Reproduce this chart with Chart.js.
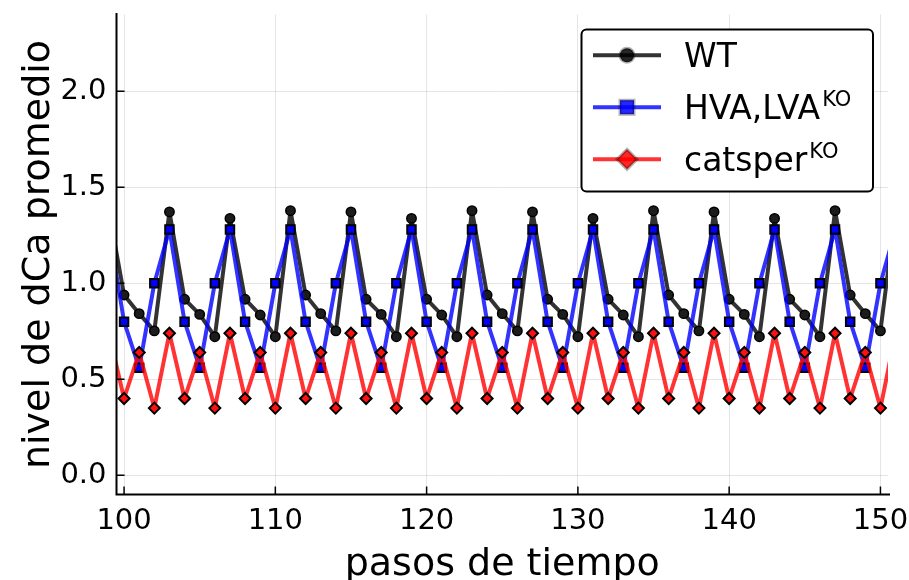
<!DOCTYPE html>
<html><head><meta charset="utf-8">
<script src="https://cdn.jsdelivr.net/npm/chart.js@4"></script>
<style>html,body{margin:0;padding:0;background:#fff}#wrap{width:909px;height:580px;position:relative}</style>
</head><body><div id="wrap"><canvas id="c" width="909" height="580"></canvas></div>
<script>
const steps = [99,100,101,102,103,104,105,106,107,108,109,110,111,112,113,114,115,116,117,118,119,120,121,122,123,124,125,126,127,128,129,130,131,132,133,134,135,136,137,138,139,140,141,142,143,144,145,146,147,148,149,150,151];
const wt = [1.378,0.939,0.842,0.752,1.372,0.917,0.838,0.722,1.338,0.917,0.835,0.722,
            1.378,0.939,0.842,0.752,1.372,0.917,0.838,0.722,1.338,0.917,0.835,0.722,
            1.378,0.939,0.842,0.752,1.372,0.917,0.838,0.722,1.338,0.917,0.835,0.722,
            1.378,0.939,0.842,0.752,1.372,0.917,0.838,0.722,1.338,0.917,0.835,0.722,
            1.378,0.939,0.842,0.752,1.372];
const hva = [1.28,0.80,0.56,1.00,1.28,0.80,0.56,1.00,1.28,0.80,0.56,1.00,
             1.28,0.80,0.56,1.00,1.28,0.80,0.56,1.00,1.28,0.80,0.56,1.00,
             1.28,0.80,0.56,1.00,1.28,0.80,0.56,1.00,1.28,0.80,0.56,1.00,
             1.28,0.80,0.56,1.00,1.28,0.80,0.56,1.00,1.28,0.80,0.56,1.00,
             1.28,0.80,0.56,1.00,1.28];
const catsper = [0.74,0.40,0.64,0.35,0.74,0.40,0.64,0.35,0.74,0.40,0.64,0.35,
                 0.74,0.40,0.64,0.35,0.74,0.40,0.64,0.35,0.74,0.40,0.64,0.35,
                 0.74,0.40,0.64,0.35,0.74,0.40,0.64,0.35,0.74,0.40,0.64,0.35,
                 0.74,0.40,0.64,0.35,0.74,0.40,0.64,0.35,0.74,0.40,0.64,0.35,
                 0.74,0.40,0.64,0.35,0.74];
const seriesNames = ['WT', 'HVA,LVA', 'catsper'];
const seriesSup = ['', 'KO', 'KO'];
const xTicks = [100, 110, 120, 130, 140, 150];
const yTicks = [0, 0.5, 1.0, 1.5, 2.0];
const xTitle = 'pasos de tiempo';
const yTitle = 'nivel de dCa promedio';

const FONT = 'DejaVu Sans';
const lineCols = ['rgba(0,0,0,0.8)', 'rgba(0,0,255,0.8)', 'rgba(255,0,0,0.8)'];
const fillCols = ['#1c1c1c', '#0000ff', '#ff1010'];
const styles = ['circle', 'rect', 'rectRot'];
const radii = [4.7, 6.0, 5.5];
const bws = [1.5, 2, 2];
const seriesData = [wt, hva, catsper];

const datasets = seriesData.map((arr, k) => ({
  label: seriesNames[k] + seriesSup[k],
  data: steps.map((s, i) => ({x: s, y: arr[i]})),
  borderColor: lineCols[k],
  borderWidth: 4,
  borderJoinStyle: 'round',
  borderCapStyle: 'round',
  backgroundColor: fillCols[k],
  pointStyle: styles[k],
  pointRadius: radii[k],
  pointBackgroundColor: fillCols[k],
  pointBorderColor: '#000',
  pointBorderWidth: bws[k],
  tension: 0,
  clip: 0,
  order: 3 - k
}));

const framePlugin = {
  id: 'frame',
  afterDatasetsDraw(chart) {
    const {ctx, chartArea: a, scales: {x, y}} = chart;
    ctx.save();
    ctx.strokeStyle = '#000';
    ctx.lineWidth = 2;
    ctx.beginPath();
    ctx.moveTo(a.left, a.top - 1.5);
    ctx.lineTo(a.left, a.bottom);
    ctx.lineTo(a.right + 2, a.bottom);
    ctx.stroke();
    ctx.lineWidth = 1.5;
    ctx.beginPath();
    xTicks.forEach(v => { const p = x.getPixelForValue(v); ctx.moveTo(p, a.bottom); ctx.lineTo(p, a.bottom - 8); });
    yTicks.forEach(v => { const p = y.getPixelForValue(v); ctx.moveTo(a.left, p); ctx.lineTo(a.left + 8, p); });
    ctx.stroke();
    ctx.restore();
  }
};

function drawMarker(ctx, style, cx, cy, fill) {
  ctx.beginPath();
  if (style === 'circle') {
    ctx.arc(cx, cy, 7, 0, Math.PI * 2);
  } else if (style === 'rect') {
    ctx.rect(cx - 7, cy - 7, 14, 14);
  } else {
    const r = 10;
    ctx.moveTo(cx, cy - r); ctx.lineTo(cx + r, cy); ctx.lineTo(cx, cy + r); ctx.lineTo(cx - r, cy); ctx.closePath();
  }
  ctx.fillStyle = fill;
  ctx.fill();
  ctx.strokeStyle = 'rgba(0,0,0,0.3)';
  ctx.lineWidth = 3;
  ctx.stroke();
}

const legendPlugin = {
  id: 'customLegend',
  afterDraw(chart) {
    const ctx = chart.ctx;
    const bx = 581.5, by = 29.5, bw = 291.5, bh = 162, rr = 5;
    ctx.save();
    ctx.beginPath();
    ctx.moveTo(bx + rr, by);
    ctx.arcTo(bx + bw, by, bx + bw, by + bh, rr);
    ctx.arcTo(bx + bw, by + bh, bx, by + bh, rr);
    ctx.arcTo(bx, by + bh, bx, by, rr);
    ctx.arcTo(bx, by, bx + bw, by, rr);
    ctx.closePath();
    ctx.fillStyle = '#fff';
    ctx.fill();
    ctx.strokeStyle = '#000';
    ctx.lineWidth = 2;
    ctx.stroke();
    const rows = [55.2, 107.2, 159.3];
    rows.forEach((cy, k) => {
      ctx.strokeStyle = lineCols[k];
      ctx.lineWidth = 4;
      ctx.beginPath();
      ctx.moveTo(593, cy); ctx.lineTo(661, cy);
      ctx.stroke();
      drawMarker(ctx, styles[k], 627, cy, k === 0 ? 'rgba(0,0,0,0.85)' : (k === 1 ? 'rgba(0,0,255,0.85)' : 'rgba(255,0,0,0.85)'));
      ctx.fillStyle = '#000';
      ctx.textAlign = 'left';
      ctx.textBaseline = 'alphabetic';
      ctx.font = '33px "' + FONT + '"';
      const tx = 684, base = cy + 11.8;
      ctx.fillText(seriesNames[k], tx, base);
      if (seriesSup[k]) {
        const w = ctx.measureText(seriesNames[k]).width;
        ctx.font = '21px "' + FONT + '"';
        ctx.fillText(seriesSup[k], tx + w + 2, base - 13);
      }
    });
    ctx.restore();
  }
};

function noPad(s) { s.paddingTop = 0; s.paddingBottom = 0; s.paddingLeft = 0; s.paddingRight = 0; }

new Chart(document.getElementById('c'), {
  type: 'line',
  data: {datasets},
  options: {
    responsive: false,
    animation: false,
    devicePixelRatio: 1,
    layout: {padding: {top: 14.5, right: 21, left: 0, bottom: 0}},
    plugins: {legend: {display: false}, tooltip: {enabled: false}},
    scales: {
      x: {
        type: 'linear', min: 99.5, max: 150.5,
        afterBuildTicks: s => { s.ticks = xTicks.map(v => ({value: v})); },
        afterFit: s => { s.height = 85.5; noPad(s); },
        ticks: {font: {family: FONT, size: 29, lineHeight: 1}, color: '#000', padding: 12, maxRotation: 0, autoSkip: false, callback: v => String(v)},
        grid: {color: 'rgba(0,0,0,0.1)', lineWidth: 1, drawTicks: false},
        border: {display: false},
        title: {display: true, text: xTitle, color: '#000', font: {family: FONT, size: 38, lineHeight: 0.75}, padding: {top: 0, bottom: 1}}
      },
      y: {
        type: 'linear', min: -0.1, max: 2.4,
        afterBuildTicks: s => { s.ticks = yTicks.map(v => ({value: v})); },
        afterFit: s => { s.width = 116.5; noPad(s); },
        ticks: {font: {family: FONT, size: 29, lineHeight: 1}, color: '#000', padding: 10, callback: v => Number(v).toFixed(1)},
        grid: {color: 'rgba(0,0,0,0.1)', lineWidth: 1, drawTicks: false},
        border: {display: false},
        title: {display: true, text: yTitle, color: '#000', font: {family: FONT, size: 38, lineHeight: 1}, padding: {top: 20, bottom: 0}}
      }
    }
  },
  plugins: [framePlugin, legendPlugin]
});
</script>
</body></html>
